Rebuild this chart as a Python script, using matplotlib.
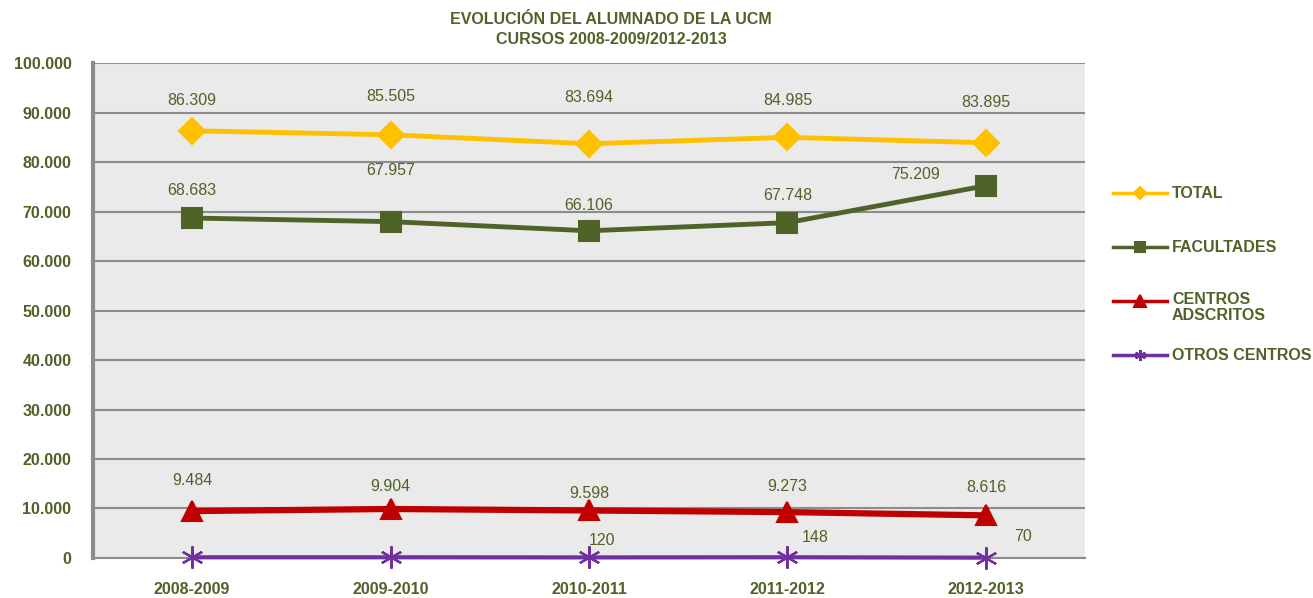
import matplotlib
matplotlib.use("Agg")
import matplotlib.pyplot as plt
from matplotlib.lines import Line2D
from matplotlib.ticker import FuncFormatter

plt.rcParams["font.family"] = ["Liberation Sans", "DejaVu Sans"]

OLIVE = "#4F6228"

cursos = ["2008-2009", "2009-2010", "2010-2011", "2011-2012", "2012-2013"]
total = [86309, 85505, 83694, 84985, 83895]
facultades = [68683, 67957, 66106, 67748, 75209]
centros_adscritos = [9484, 9904, 9598, 9273, 8616]
otros_centros = [142, 144, 120, 148, 70]
otros_labels = [None, None, "120", "148", "70"]

# label offsets in pixels (dx, dy) for each point
off_total = [(0, 30), (0, 38), (0, 46), (0, 37), (0, 40)]
off_fac = [(0, 28), (0, 51), (0, 25), (0, 27), (-70, 11)]
off_cen = [(0, 31), (0, 22), (0, 17), (0, 26), (0, 28)]
off_otros = [(0, 0), (0, 0), (13, 17), (28, 20), (37, 21)]

# legend row positions (pixels from top)
legend_rows = [193, 247, 301, 355]

W, H = 1313, 598


def fmt(v):
    return "{:,}".format(int(v)).replace(",", ".")


fig = plt.figure(figsize=(W / 100, H / 100), dpi=100)
ax = fig.add_axes([0.0708, 0.0669, 0.7556, 0.8277])
ax.set_facecolor("#EAEAEA")

x = list(range(len(cursos)))
series = [
    ("TOTAL", total, "#FFC000", "D", 13, 3.5, 6.5),
    ("FACULTADES", facultades, OLIVE, "s", 14, 3.5, 7),
    ("CENTROS\nADSCRITOS", centros_adscritos, "#C00000", "^", 15, 4.5, 8),
    ("OTROS CENTROS", otros_centros, "#7030A0", (6, 2, 0), 16, 3, 8),
]
for name, vals, col, mk, ms, lw, lms in series:
    ax.plot(x, vals, color=col, lw=lw, marker=mk, ms=ms,
            markeredgecolor=col, markeredgewidth=1.5 if mk != (6, 2, 0) else 1.6,
            zorder=3, solid_joinstyle="round", clip_on=False)

for vals, offs in [(total, off_total), (facultades, off_fac), (centros_adscritos, off_cen)]:
    for i, v in enumerate(vals):
        ax.annotate(fmt(v), (i, v), xytext=offs[i], textcoords="offset pixels",
                    ha="center", va="center", fontsize=11.5, color=OLIVE)
for i, v in enumerate(otros_centros):
    if otros_labels[i]:
        ax.annotate(otros_labels[i], (i, v), xytext=off_otros[i], textcoords="offset pixels",
                    ha="center", va="center", fontsize=11.5, color=OLIVE)

ax.set_xlim(-0.5, 4.5)
ax.set_ylim(0, 100000)
ax.set_yticks(range(0, 100001, 10000))
ax.yaxis.set_major_formatter(FuncFormatter(lambda v, p: fmt(v)))
ax.set_xticks(x)
ax.set_xticklabels(cursos)
ax.grid(axis="y", color="#8C8C8C", lw=1.5, zorder=1)
ax.set_axisbelow(True)
for lab in ax.get_xticklabels() + ax.get_yticklabels():
    lab.set_fontweight("bold")
    lab.set_color(OLIVE)
    lab.set_fontsize(11.5)
ax.tick_params(length=0)
ax.tick_params(axis="y", pad=15.5)
ax.tick_params(axis="x", pad=17)

for s in ["top", "right"]:
    ax.spines[s].set_visible(False)
ax.spines["left"].set_color("#8C8C8C")
ax.spines["left"].set_linewidth(3)
ax.spines["bottom"].set_color("#8C8C8C")
ax.spines["bottom"].set_linewidth(1.5)

fig.text(0.4655, 1 - 12 / H, "EVOLUCIÓN DEL ALUMNADO DE LA UCM\nCURSOS 2008-2009/2012-2013",
         ha="center", va="top", fontsize=11.5, fontweight="bold", color=OLIVE,
         linespacing=1.45)

# legend drawn by hand so the two-line entry keeps its handle on the first line
x0, x1, xt = 1113 / W, 1167 / W, 1172 / W
for (name, vals, col, mk, ms, lw, lms), yp in zip(series, legend_rows):
    yf = 1 - yp / H
    fig.add_artist(Line2D([x0, x1], [yf, yf], color=col, lw=2.5))
    fig.add_artist(Line2D([(x0 + x1) / 2], [yf], color=col, marker=mk, ms=lms,
                          markeredgecolor=col, markeredgewidth=1.5))
    fig.text(xt, yf, name, ha="left", va="top" if "\n" in name else "center",
             fontsize=11.5, fontweight="bold", color=OLIVE, linespacing=1.05,
             transform=fig.transFigure)
    if "\n" in name:
        fig.texts[-1].set_y(yf + 9 / H)

fig.savefig("out.png", dpi=100)
